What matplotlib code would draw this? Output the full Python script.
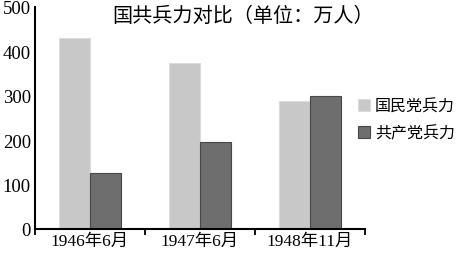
import matplotlib
matplotlib.use("Agg")
import matplotlib.pyplot as plt
import numpy as np

plt.rcParams["font.family"] = ["Liberation Serif", "Noto Sans CJK SC"]

periods = ["1946年6月", "1947年6月", "1948年11月"]
kmt = [430, 373, 288]
ccp = [127, 195, 300]
series_names = ["国民党兵力", "共产党兵力"]
title = "国共兵力对比（单位：万人）"

fig = plt.figure(figsize=(4.62, 2.55), dpi=100)
ax = fig.add_axes([35 / 462, 1 - 230 / 255, 330 / 462, 222 / 255])

x = np.arange(len(periods))
w = 0.285
ax.bar(x - w / 2, kmt, w, color="#c8c8c8", edgecolor="#dcdcdc", linewidth=0.8,
       label=series_names[0])
ax.bar(x + w / 2, ccp, w, color="#6e6e6e", edgecolor="#484848", linewidth=0.8,
       label=series_names[1])

ax.set_xlim(-0.5, len(periods) - 0.5)
ax.set_ylim(0, 500)
ax.set_yticks([0, 100, 200, 300, 400, 500])
ax.tick_params(axis="y", length=0, labelsize=13.5, pad=3)
ax.set_xticks(x)
ax.set_xticklabels(periods)
ax.tick_params(axis="x", which="major", length=0, labelsize=12.5, pad=3)
ax.set_xticks(np.arange(len(periods) + 1) - 0.5, minor=True)
ax.tick_params(axis="x", which="minor", length=4, width=1.3, direction="out")

for s in ["top", "right"]:
    ax.spines[s].set_visible(False)
ax.spines["left"].set_linewidth(1.5)
ax.spines["bottom"].set_linewidth(1.5)

fig.text(243 / 462, 1 - 17 / 255, title, ha="center", va="center", fontsize=14.5)

ax.legend(loc="center left", bbox_to_anchor=(0.979, 0.49), frameon=False,
          fontsize=11.5, handlelength=0.75, handleheight=0.75, handletextpad=0.3,
          labelspacing=0.7, borderaxespad=0, borderpad=0)

fig.savefig("out.png", dpi=100)
